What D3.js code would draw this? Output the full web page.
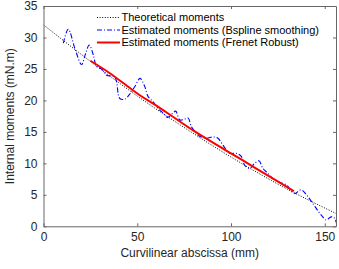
<!DOCTYPE html>
<html>
<head>
<meta charset="utf-8">
<script src="https://cdn.jsdelivr.net/npm/d3@7"></script>
<style>
  body { margin: 0; background: #fff; }
  text { font-family: "Liberation Sans", Arial, sans-serif; }
</style>
</head>
<body>
<div class="chart"></div>
<script>
// curvilinear abscissa (mm) / internal moments (mN.m)
const theoX = [0, 25, 50, 75, 100, 125, 157];
const theoY = [32, 26.2, 20.7, 15.7, 11.0, 6.7, 1.9];

const bsplineX = [10.6, 13.2, 17, 20.3, 22.5, 24.4, 26.5, 28.3, 31, 33.6, 38, 40.7, 43.4, 46, 48.7, 51.5,
  54, 55.8, 58.4, 61.1, 63.8, 66, 69.1, 70.5, 72.7, 75, 77.1, 78.9, 81, 83.3, 86.9, 90.4, 93, 95.7,
  99.3, 102.8, 105.5, 107.3, 109.9, 112.6, 114.9, 117, 119.7, 122.3, 125.9, 129.4, 133.9, 137.4,
  140.5, 143.6, 146.5, 148.9, 150.8, 153.4, 155.2, 157];
const bsplineY = [29.1, 31.3, 28, 25.7, 27.5, 28.8, 27.3, 25.4, 25.0, 24.0, 23.7, 20.3, 20.2, 21, 22.2, 23.5,
  22.2, 20.6, 19.8, 18.7, 18.0, 17.3, 18.0, 18.3, 16.9, 17.0, 17.2, 15.8, 15.0, 14.3, 14.0, 14.2, 14.0, 12.9,
  11.6, 11.6, 11.1, 9.7, 9.2, 10.0, 10.4, 9.2, 8.4, 7.6, 7.0, 6.6, 5.2, 5.8,
  4.9, 3.65, 2.4, 1.5, 1.0, 1.5, 1.3, -0.5];

const frenetX = [25, 35, 51, 60, 70, 80, 94, 100, 110, 120, 133.5];
const frenetY = [26.3, 24.4, 20.9, 19.2, 17.2, 15.2, 12.65, 11.6, 9.8, 8.0, 5.6];

const xTicks = [0, 50, 100, 150];
const yTicks = [0, 5, 10, 15, 20, 25, 30, 35];
const legendLabels = ["Theoretical moments", "Estimated moments (Bspline smoothing)", "Estimated moments (Frenet Robust)"];

const width = 339, height = 269;
const plotLeft = 43.5, plotRight = 336, plotTop = 6, plotBottom = 226.3;

const svg = d3.select(".chart").append("svg")
    .attr("width", width)
    .attr("height", height);

const x = d3.scaleLinear().domain([0, 156]).range([plotLeft, plotRight]);
const y = d3.scaleLinear().domain([0, 35]).range([plotBottom, plotTop]);

svg.append("clipPath").attr("id", "clip")
  .append("rect")
    .attr("x", plotLeft).attr("y", plotTop)
    .attr("width", plotRight - plotLeft).attr("height", plotBottom - plotTop);

const plot = svg.append("g").attr("clip-path", "url(#clip)");

const zip = (xs, ys) => xs.map((v, i) => [v, ys[i]]);

plot.append("path")
    .datum(zip(theoX, theoY))
    .attr("fill", "none")
    .attr("stroke", "#000")
    .attr("stroke-width", 1)
    .attr("stroke-dasharray", "1,1.6")
    .attr("d", d3.line().curve(d3.curveMonotoneX).x(d => x(d[0])).y(d => y(d[1])));

plot.append("path")
    .datum(zip(bsplineX, bsplineY))
    .attr("fill", "none")
    .attr("stroke", "#0000ff")
    .attr("stroke-width", 1.1)
    .attr("stroke-dasharray", "5,2,1,2")
    .attr("d", d3.line().curve(d3.curveCatmullRom).x(d => x(d[0])).y(d => y(d[1])));

plot.append("path")
    .datum(zip(frenetX, frenetY))
    .attr("fill", "none")
    .attr("stroke", "#ff0000")
    .attr("stroke-width", 2)
    .attr("d", d3.line().curve(d3.curveCatmullRom).x(d => x(d[0])).y(d => y(d[1])));

// axes box with inward ticks on all sides
const axisColor = "#666";
const bottomAxis = svg.append("g")
    .attr("transform", `translate(0,${plotBottom})`)
    .call(d3.axisBottom(x).tickValues(xTicks).tickSizeInner(-3).tickSizeOuter(0).tickPadding(6));
const topAxis = svg.append("g")
    .attr("transform", `translate(0,${plotTop})`)
    .call(d3.axisTop(x).tickValues(xTicks).tickSizeInner(-3).tickSizeOuter(0).tickFormat(""));
const leftAxis = svg.append("g")
    .attr("transform", `translate(${plotLeft},0)`)
    .call(d3.axisLeft(y).tickValues(yTicks).tickSizeInner(-3).tickSizeOuter(0).tickPadding(6));
const rightAxis = svg.append("g")
    .attr("transform", `translate(${plotRight},0)`)
    .call(d3.axisRight(y).tickValues(yTicks).tickSizeInner(-3).tickSizeOuter(0).tickFormat(""));

[bottomAxis, topAxis, leftAxis, rightAxis].forEach(a => {
  a.selectAll(".domain").attr("stroke", axisColor).attr("stroke-width", 1);
  a.selectAll(".tick line").attr("stroke", axisColor);
  a.selectAll(".tick text").attr("fill", "#262626").style("font-size", "12px")
    .style("font-family", "'Liberation Sans', Arial, sans-serif");
});

svg.append("text")
    .attr("x", (plotLeft + plotRight) / 2)
    .attr("y", 257)
    .attr("text-anchor", "middle")
    .attr("fill", "#262626")
    .style("font-size", "12px")
    .text("Curvilinear abscissa (mm)");

svg.append("text")
    .attr("transform", `translate(14,${(plotTop + plotBottom) / 2}) rotate(-90)`)
    .attr("text-anchor", "middle")
    .attr("fill", "#262626")
    .style("font-size", "12px")
    .text("Internal moments (mN.m)");

// legend
const legendStyles = [
  { stroke: "#000", width: 1, dash: "1,1.6" },
  { stroke: "#0000ff", width: 1.1, dash: "5,2,1,2" },
  { stroke: "#ff0000", width: 2, dash: null }
];
const legend = svg.append("g").attr("transform", "translate(97,17.5)");
legendLabels.forEach((label, i) => {
  const row = legend.append("g").attr("transform", `translate(0,${i * 12.5})`);
  row.append("line")
      .attr("x1", 0).attr("x2", 23)
      .attr("stroke", legendStyles[i].stroke)
      .attr("stroke-width", legendStyles[i].width)
      .attr("stroke-dasharray", legendStyles[i].dash);
  row.append("text")
      .attr("x", 24.5)
      .attr("dy", "0.35em")
      .attr("fill", "#000")
      .style("font-size", "11px")
      .text(label);
});
</script>
</body>
</html>
